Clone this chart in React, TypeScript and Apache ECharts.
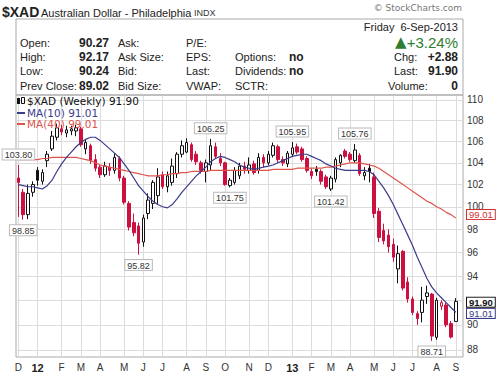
import React, { useEffect, useRef } from 'react';
import * as echarts from 'echarts';

// Weekly OHLC, $XAD, week of 5-Dec-2011 through week of 2-Sep-2013
const opens = [
  102.6, 101.3, 99.3, 101.3, 103.3, 102.3, 104.2, 105.3, 106.4, 107.2,
  106.8, 107.0, 107.0, 107.2, 105.3, 105.6, 104.3, 103.6, 102.9, 103.6,
  103.3, 104.4, 102.6, 100.3, 98.6, 98.3, 96.9, 99.4, 100.3, 101.0,
  102.9, 101.8, 102.2, 103.0, 104.8, 105.0, 105.7, 104.8, 104.0, 103.2,
  103.8, 105.5, 104.4, 104.0, 101.9, 102.2, 102.8, 103.7, 103.3, 103.9,
  103.3, 104.5, 104.0, 104.7, 105.5, 104.3, 103.9, 104.8, 105.5, 105.3,
  104.4, 103.2, 103.4, 103.2, 102.7, 101.6, 102.5, 104.0, 105.1, 104.8,
  104.2, 104.7, 102.8, 103.5, 102.7, 99.6, 97.9, 97.5, 96.7, 94.6,
  96.1, 93.5, 92.1, 90.9, 91.0, 92.3, 92.5, 89.0, 91.5, 91.6,
  90.1, 90.27,
];
const highs = [
  103.8, 101.6, 102.0, 102.3, 103.6, 103.4, 105.1, 107.0, 107.7, 107.6,
  107.5, 107.5, 107.6, 107.4, 106.2, 105.8, 104.8, 103.8, 104.1, 104.0,
  104.9, 104.6, 102.8, 100.5, 99.4, 98.6, 99.3, 101.2, 102.4, 103.5,
  103.2, 103.2, 104.4, 105.0, 106.1, 106.3, 105.9, 105.1, 104.2, 104.3,
  106.25, 105.9, 104.9, 104.1, 102.6, 103.6, 104.0, 104.1, 104.5, 104.2,
  104.9, 104.8, 105.1, 105.9, 105.7, 104.6, 105.1, 105.95, 105.8, 105.5,
  104.6, 103.5, 103.7, 103.4, 102.9, 102.8, 104.5, 104.8, 105.3, 105.0,
  105.76, 104.9, 103.6, 103.9, 103.1, 99.9, 98.5, 98.0, 97.2, 96.6,
  96.2, 93.9, 92.3, 91.1, 93.1, 93.2, 92.6, 92.2, 92.0, 91.8,
  90.3, 92.17,
];
const lows = [
  99.1, 98.85, 98.9, 100.9, 101.9, 102.0, 103.6, 105.1, 106.1, 106.6,
  106.4, 106.6, 106.5, 105.5, 104.8, 103.9, 103.2, 102.6, 102.7, 102.8,
  103.0, 102.3, 100.2, 97.9, 97.4, 95.82, 96.5, 98.9, 99.8, 100.2,
  101.6, 101.3, 101.9, 102.6, 104.5, 104.9, 104.1, 103.8, 103.0, 102.2,
  103.3, 104.4, 103.7, 101.9, 101.75, 102.0, 102.5, 103.0, 103.0, 102.9,
  103.0, 103.6, 103.8, 104.5, 104.0, 103.7, 103.6, 104.6, 104.8, 104.1,
  103.1, 102.5, 102.8, 102.0, 101.6, 101.42, 102.2, 103.6, 104.4, 104.1,
  104.0, 102.8, 102.4, 102.2, 99.0, 96.9, 96.7, 96.0, 95.2, 93.4,
  92.8, 91.8, 90.8, 90.0, 90.2, 91.7, 88.71, 88.8, 91.2, 89.8,
  88.9, 90.24,
];
const closes = [
  102.2, 99.3, 101.2, 102.0, 102.4, 103.1, 104.8, 106.5, 107.3, 106.9,
  107.1, 107.2, 107.3, 105.7, 105.9, 104.2, 103.5, 102.9, 103.7, 103.3,
  104.5, 102.6, 100.4, 98.2, 97.7, 96.8, 99.0, 100.6, 102.2, 102.7,
  101.8, 102.8, 103.7, 104.8, 105.6, 105.9, 104.3, 104.1, 103.3, 104.0,
  105.6, 104.6, 104.0, 102.0, 102.4, 103.3, 103.7, 103.4, 103.8, 103.1,
  104.5, 104.0, 104.8, 105.6, 104.3, 104.0, 104.9, 105.4, 105.0, 104.3,
  103.3, 102.8, 103.2, 102.3, 101.8, 102.6, 104.3, 104.7, 104.6, 104.3,
  105.2, 103.0, 103.1, 103.2, 99.4, 97.3, 97.0, 96.5, 95.6, 95.9,
  93.0, 92.1, 91.0, 90.5, 92.0, 92.6, 89.1, 92.0, 91.8, 90.0,
  89.02, 91.9,
];
const ma10 = [
  102.0, 101.9, 101.8, 101.8, 101.7, 101.6, 101.9, 102.4, 103.2, 103.9,
  104.5, 105.0, 105.5, 105.9, 106.2, 106.4, 106.4, 106.1, 105.7, 105.3,
  104.9, 104.5, 103.9, 103.3, 102.6, 101.9, 101.4, 100.9, 100.5, 100.2,
  100.0, 99.9, 100.2, 100.7, 101.3, 101.8, 102.3, 102.8, 103.2, 103.6,
  104.1, 104.4, 104.6, 104.5, 104.3, 104.1, 103.8, 103.6, 103.5, 103.4,
  103.5, 103.6, 103.7, 103.8, 104.0, 104.2, 104.4, 104.6, 104.7, 104.8,
  104.8, 104.6, 104.4, 104.2, 103.9, 103.7, 103.5, 103.4, 103.3, 103.3,
  103.3, 103.3, 103.3, 103.2, 102.9, 102.3, 101.7, 101.0, 100.2, 99.3,
  98.4, 97.5, 96.6, 95.6, 94.7, 93.8, 93.1, 92.6, 92.2, 91.8,
  91.4, 91.01,
];
const ma40 = [
  104.3, 104.3, 104.3, 104.3, 104.3, 104.4, 104.4, 104.5, 104.5, 104.5,
  104.5, 104.5, 104.5, 104.4, 104.3, 104.2, 104.0, 103.8, 103.7, 103.6,
  103.5, 103.4, 103.3, 103.2, 103.1, 103.0, 102.9, 102.8, 102.8, 102.8,
  102.9, 102.9, 103.0, 103.0, 103.1, 103.1, 103.2, 103.2, 103.2, 103.2,
  103.3, 103.3, 103.3, 103.3, 103.3, 103.3, 103.3, 103.3, 103.3, 103.3,
  103.3, 103.3, 103.3, 103.4, 103.4, 103.4, 103.4, 103.4, 103.5, 103.5,
  103.5, 103.5, 103.5, 103.5, 103.6, 103.6, 103.7, 103.8, 103.9, 104.0,
  104.0, 104.0, 103.9, 103.8, 103.7, 103.5, 103.2, 102.9, 102.6, 102.3,
  102.0, 101.7, 101.4, 101.1, 100.8, 100.5, 100.3, 100.0, 99.8, 99.5,
  99.3, 99.01,
];
const yTicks = [88, 90, 92, 94, 96, 98, 100, 102, 104, 106, 108, 110];
// tick labels the price badges cover in the original
const yHiddenLabels = [92];
const highlights = [
  { i: 0, v: 103.8, pos: 'top' },
  { i: 1, v: 98.85, pos: 'bottom' },
  { i: 25, v: 95.82, pos: 'bottom' },
  { i: 40, v: 106.25, pos: 'top' },
  { i: 44, v: 101.75, pos: 'bottom' },
  { i: 57, v: 105.95, pos: 'top' },
  { i: 65, v: 101.42, pos: 'bottom' },
  { i: 70, v: 105.76, pos: 'top' },
  { i: 86, v: 88.71, pos: 'bottom' },
];
const firstWeek = [2011, 11, 5];

const weeks: string[] = [];
for (let i = 0; i < closes.length; i++) {
  const d = new Date(Date.UTC(firstWeek[0], firstWeek[1], firstWeek[2] + 7 * i));
  weeks.push(d.toISOString().slice(0, 10));
}
weeks.push('');

const L = Math.log;
const RED = '#cc1040';
const MONTHS = 'JFMAMJJASOND';
const FONT = 'Liberation Sans, Arial, sans-serif';

const isMonthStart = (_i: number, s: string) => !!s && Number(s.slice(8, 10)) <= 7;

function candleStyle(i: number) {
  const o = opens[i];
  const c = closes[i];
  const prev = i > 0 ? closes[i - 1] : Infinity;
  const stroke = c >= prev ? '#111' : RED;
  const fill = c > o ? '#fff' : stroke;
  return { color: fill, color0: fill, borderColor: stroke, borderColor0: stroke };
}

function t(text: string, x: number, y: number, o: any = {}) {
  return {
    type: 'text',
    x,
    y,
    z: 100,
    zlevel: 1,
    silent: true,
    style: {
      text,
      fill: o.fill || '#222',
      font: o.font || `11px ${FONT}`,
      textAlign: o.align || 'left',
      textVerticalAlign: 'middle',
    },
  };
}

function buildOption() {
  const candleData = closes.map((c, i) => ({
    value: [L(opens[i]), L(c), L(lows[i]), L(highs[i])],
    itemStyle: candleStyle(i),
  }));
  const tickVals = yTicks.map((v) => L(v));
  const labelVals = yTicks.filter((v) => !yHiddenLabels.includes(v)).map((v) => L(v));
  const last = closes.length - 1;
  const hiddenLine = { color: 'rgba(0,0,0,0)', width: 0, type: 'solid' };
  const badge = (color: string, bold = false) => ({
    show: true,
    position: 'end',
    distance: 4,
    color,
    opacity: 1,
    fontSize: 9.5,
    fontWeight: bold ? 'bold' : 'normal',
    fontFamily: FONT,
    backgroundColor: '#fff',
    borderColor: color,
    borderWidth: 1,
    padding: [0, 2, 0, 2],
    lineHeight: 9,
  });

  const rows = [43, 57, 71, 86];
  const bold = `bold 12px ${FONT}`;
  const graphics: any[] = [
    { type: 'rect', z: 100, zlevel: 1, shape: { x: 16, y: 19, width: 447, height: 76 }, style: { fill: 'none', stroke: '#aaa', lineWidth: 1 }, silent: true },
    t('$XAD', 2, 12, { font: `bold 14px ${FONT}` }),
    t('Australian Dollar - Philadelphia', 41, 13, { font: `11px ${FONT}` }),
    t('INDX', 194, 13, { font: `9px ${FONT}`, fill: '#333' }),
    t('© StockCharts.com', 462, 8, { font: `9px DejaVu Sans`, fill: '#777', align: 'right' }),
    t('Open:', 20, rows[0]), t('High:', 20, rows[1]), t('Low:', 20, rows[2]), t('Prev Close:', 20, rows[3]),
    t('90.27', 109, rows[0], { font: bold, align: 'right' }),
    t('92.17', 109, rows[1], { font: bold, align: 'right' }),
    t('90.24', 109, rows[2], { font: bold, align: 'right' }),
    t('89.02', 109, rows[3], { font: bold, align: 'right' }),
    t('Ask:', 118, rows[0]), t('Ask Size:', 118, rows[1]), t('Bid:', 118, rows[2]), t('Bid Size:', 118, rows[3]),
    t('P/E:', 186, rows[0]), t('EPS:', 186, rows[1]), t('Last:', 186, rows[2]), t('VWAP:', 186, rows[3]),
    t('Options:', 235, rows[1]), t('Dividends:', 235, rows[2]), t('SCTR:', 235, rows[3]),
    t('no', 289, rows[1], { font: bold }), t('no', 289, rows[2], { font: bold }),
    t('Friday  6-Sep-2013', 458, 27, { align: 'right' }),
    t('▲', 395, 42, { font: `15px DejaVu Sans`, fill: '#2e7d32' }),
    t('+3.24%', 458, 42, { font: `15px ${FONT}`, fill: '#2e7d32', align: 'right' }),
    t('Chg:', 394, rows[1]), t('+2.88', 458, rows[1], { font: bold, align: 'right' }),
    t('Last:', 394, rows[2]), t('91.90', 458, rows[2], { font: bold, align: 'right' }),
    t('Volume:', 388, rows[3]), t('0', 458, rows[3], { font: bold, align: 'right' }),
    // legend
    { type: 'rect', z: 100, zlevel: 1, shape: { x: 17, y: 98, width: 3, height: 6 }, style: { fill: '#111' }, silent: true },
    { type: 'rect', z: 100, zlevel: 1, shape: { x: 21.5, y: 97.5, width: 3, height: 6 }, style: { fill: '#fff', stroke: '#111', lineWidth: 1 }, silent: true },
    t('$XAD (Weekly) 91.90', 27, 101, { font: `10.5px DejaVu Sans`, fill: '#111' }),
    { type: 'line', z: 100, zlevel: 1, shape: { x1: 17, y1: 113, x2: 25, y2: 113 }, style: { stroke: '#3c3c8c', lineWidth: 2 }, silent: true },
    t('MA(10) 91.01', 27, 113, { font: `10.5px DejaVu Sans`, fill: '#3c3c8c' }),
    { type: 'line', z: 100, zlevel: 1, shape: { x1: 17, y1: 124, x2: 25, y2: 124 }, style: { stroke: '#e0544c', lineWidth: 2 }, silent: true },
    t('MA(40) 99.01', 27, 124, { font: `10.5px DejaVu Sans`, fill: '#e0544c' }),
  ];

  return {
    animation: false,
    textStyle: { fontFamily: FONT },
    grid: { left: 16, top: 95, width: 447, height: 262, show: true, borderColor: '#aaa', borderWidth: 1 },
    xAxis: {
      type: 'category',
      data: weeks,
      boundaryGap: true,
      axisLine: { show: false },
      axisTick: { show: false },
      axisLabel: {
        interval: isMonthStart,
        margin: 5,
        fontSize: 10,
        color: '#333',
        formatter: (s: string) => {
          const m = Number(s.slice(5, 7));
          return m === 1 ? `{b|${s.slice(2, 4)}}` : MONTHS[m - 1];
        },
        rich: { b: { fontWeight: 'bold', fontSize: 11, color: '#222' } },
      },
      splitLine: { show: true, interval: isMonthStart, alignWithLabel: true, lineStyle: { color: '#dcdcdc', width: 1 } },
    },
    yAxis: {
      type: 'value',
      position: 'right',
      min: L(87.45),
      max: L(110.49),
      axisLine: { show: false },
      axisTick: { show: false, customValues: tickVals },
      axisLabel: {
        customValues: labelVals,
        formatter: (v: number) => String(Math.round(Math.exp(v))),
        fontSize: 10,
        lineHeight: 9,
        color: '#333',
        margin: 4,
      },
      splitLine: { show: true, lineStyle: { color: '#dcdcdc', width: 1 } },
    },
    graphic: { elements: graphics },
    series: [
      {
        type: 'candlestick',
        data: candleData,
        barWidth: 3,
        clip: false,
        itemStyle: { borderWidth: 1 },
        markPoint: {
          symbol: 'rect',
          symbolSize: 1,
          silent: true,
          itemStyle: { color: 'rgba(0,0,0,0)' },
          label: {
            show: true,
            formatter: '{b}',
            fontSize: 9,
            color: '#333',
            fontFamily: FONT,
            backgroundColor: '#fff',
            borderColor: '#bbb',
            borderWidth: 1,
            padding: [1, 2, 0, 2],
          },
          data: highlights.map((h) => ({
            coord: [h.i, L(h.v)],
            name: h.v.toFixed(2),
            label: { position: h.pos, distance: 5 },
          })),
        },
        markLine: {
          symbol: 'none',
          silent: true,
          lineStyle: hiddenLine,
          label: { ...badge('#111', true), formatter: closes[last].toFixed(2) },
          data: [{ yAxis: L(closes[last]) }],
        },
      },
      {
        type: 'line',
        data: ma40.map((v) => L(v)),
        showSymbol: false,
        clip: false,
        lineStyle: { color: '#e0544c', width: 1.2 },
        itemStyle: { color: '#e0544c' },
        markLine: {
          symbol: 'none',
          silent: true,
          lineStyle: hiddenLine,
          label: { ...badge('#d03030'), formatter: ma40[last].toFixed(2), offset: [0, 2] },
          data: [{ yAxis: L(ma40[last]) }],
        },
      },
      {
        type: 'line',
        data: ma10.map((v) => L(v)),
        showSymbol: false,
        clip: false,
        lineStyle: { color: '#3c3c8c', width: 1.2 },
        itemStyle: { color: '#3c3c8c' },
        markLine: {
          symbol: 'none',
          silent: true,
          lineStyle: hiddenLine,
          label: { ...badge('#3c3c8c'), formatter: ma10[last].toFixed(2) },
          data: [{ yAxis: L(ma10[last]) }],
        },
      },
    ],
  };
}

export default function App() {
  const ref = useRef<HTMLDivElement>(null);
  useEffect(() => {
    const chart = echarts.init(ref.current!, null, { renderer: 'svg' });
    chart.setOption(buildOption() as any);
    return () => chart.dispose();
  }, []);
  return (
    <div
      ref={ref}
      style={{ position: 'absolute', left: 0, top: 0, width: 500, height: 376, background: '#fff' }}
    />
  );
}
